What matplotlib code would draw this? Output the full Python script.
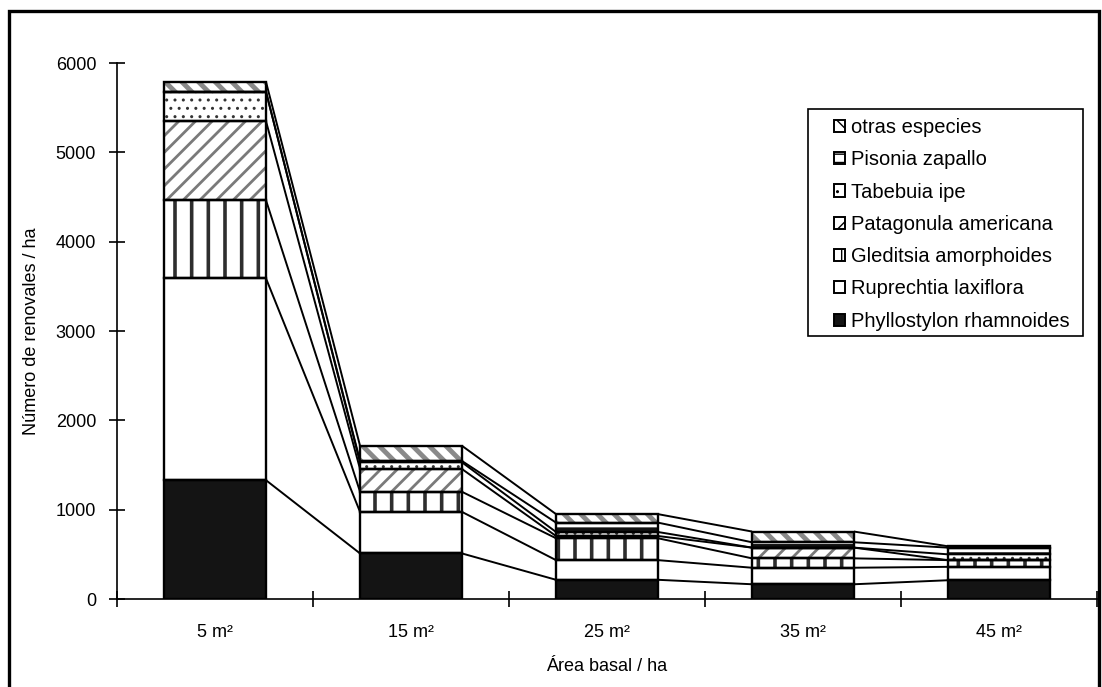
import matplotlib

matplotlib.use("Agg")
import matplotlib.pyplot as plt
import numpy as np
from matplotlib.patches import Patch, Rectangle

plt.rcParams["font.family"] = ["Liberation Sans", "DejaVu Sans"]

# === Data ===
categories = ["5 m²", "15 m²", "25 m²", "35 m²", "45 m²"]
species = [
    "Phyllostylon rhamnoides",
    "Ruprechtia laxiflora",
    "Gleditsia amorphoides",
    "Patagonula americana",
    "Tabebuia ipe",
    "Pisonia zapallo",
    "otras especies",
]
phyllostylon = [1330, 510, 215, 165, 210]
ruprechtia = [2260, 465, 220, 185, 150]
gleditsia = [875, 225, 245, 105, 75]
patagonula = [885, 255, 25, 120, 0]
tabebuia = [330, 75, 45, 0, 65]
pisonia = [0, 15, 105, 60, 75]
otras = [110, 170, 95, 120, 15]
series = [phyllostylon, ruprechtia, gleditsia, patagonula, tabebuia, pisonia, otras]

# fill, hatch, hatch colour, hatch linewidth
styles = [
    ("#141414", None, "#141414", 1.0),
    ("white", None, "black", 1.0),
    ("white", "|", "#2e2e2e", 2.6),
    ("white", "//", "#7a7a7a", 2.0),
    ("white", "..", "#333333", 1.0),
    ("white", "--", "#111111", 2.6),
    ("white", "\\\\", "#8a8a8a", 3.5),
]

W, H = 1102, 687
fig = plt.figure(figsize=(W / 100, H / 100), dpi=100)
ax = fig.add_axes([117 / W, 1 - 599 / H, 980 / W, 536 / H])

x = np.arange(len(categories))
width = 0.52
bottom = np.zeros(len(categories))
tops = []
for vals, (fc, hatch, hc, hlw) in zip(series, styles):
    vals = np.array(vals, dtype=float)
    with plt.rc_context({"hatch.linewidth": hlw}):
        ax.bar(x, vals, width, bottom=bottom, color=fc, edgecolor=hc,
               hatch=hatch, linewidth=0, zorder=2)
    ax.bar(x, vals, width, bottom=bottom, fill=False, edgecolor="black",
           linewidth=1.7, zorder=3)
    bottom = bottom + vals
    tops.append(bottom.copy())

# series lines between bars
for level in tops:
    for i in range(len(categories) - 1):
        ax.plot([x[i] + width / 2, x[i + 1] - width / 2], [level[i], level[i + 1]],
                color="black", linewidth=1.4, zorder=1, solid_capstyle="butt")

ax.set_xlim(-0.5, len(categories) - 0.5)
ax.set_ylim(0, 6000)
ax.set_yticks(range(0, 6001, 1000))
ax.set_xticks(np.arange(-0.5, len(categories), 1.0))
ax.set_xticklabels([])
ax.set_xticks(x, minor=True)
ax.set_xticklabels(categories, minor=True)
ax.tick_params(axis="both", which="major", direction="inout", length=12,
               width=1.2, labelsize=13, pad=9)
ax.tick_params(axis="x", which="minor", length=0, labelsize=13, pad=18)
for side in ["top", "right"]:
    ax.spines[side].set_visible(False)
for side in ["left", "bottom"]:
    ax.spines[side].set_linewidth(1.2)

ax.set_ylabel("Número de renovales / ha", fontsize=13, labelpad=11)
ax.set_xlabel("Área basal / ha", fontsize=13, labelpad=12)

handles = []
for name, (fc, hatch, hc, hlw) in zip(species, styles):
    handles.append(Patch(facecolor=fc, edgecolor="black", hatch=hatch, linewidth=1.4))
with plt.rc_context({"hatch.linewidth": 1.0}):
    leg = ax.legend(handles[::-1], species[::-1], loc="upper left",
                    bbox_to_anchor=(834 / W, 1 - 118 / H), bbox_transform=fig.transFigure,
                    fontsize=14.5, frameon=False, handlelength=0.55, handleheight=0.55,
                    handletextpad=0.3, labelspacing=0.66, borderpad=0,
                    borderaxespad=0)

# legend frame
ax.add_artist(Rectangle((808 / W, 1 - 336 / H), 275 / W, 227 / H,
                        transform=fig.transFigure, fill=False, edgecolor="black",
                        linewidth=1.2, clip_on=False, zorder=5))

# outer frame
fig.patches.append(Rectangle((9 / W, -0.05), 1090 / W, 1.05 - 11 / H,
                             transform=fig.transFigure, fill=False,
                             edgecolor="black", linewidth=2.4))

fig.savefig("out.png", dpi=100)
